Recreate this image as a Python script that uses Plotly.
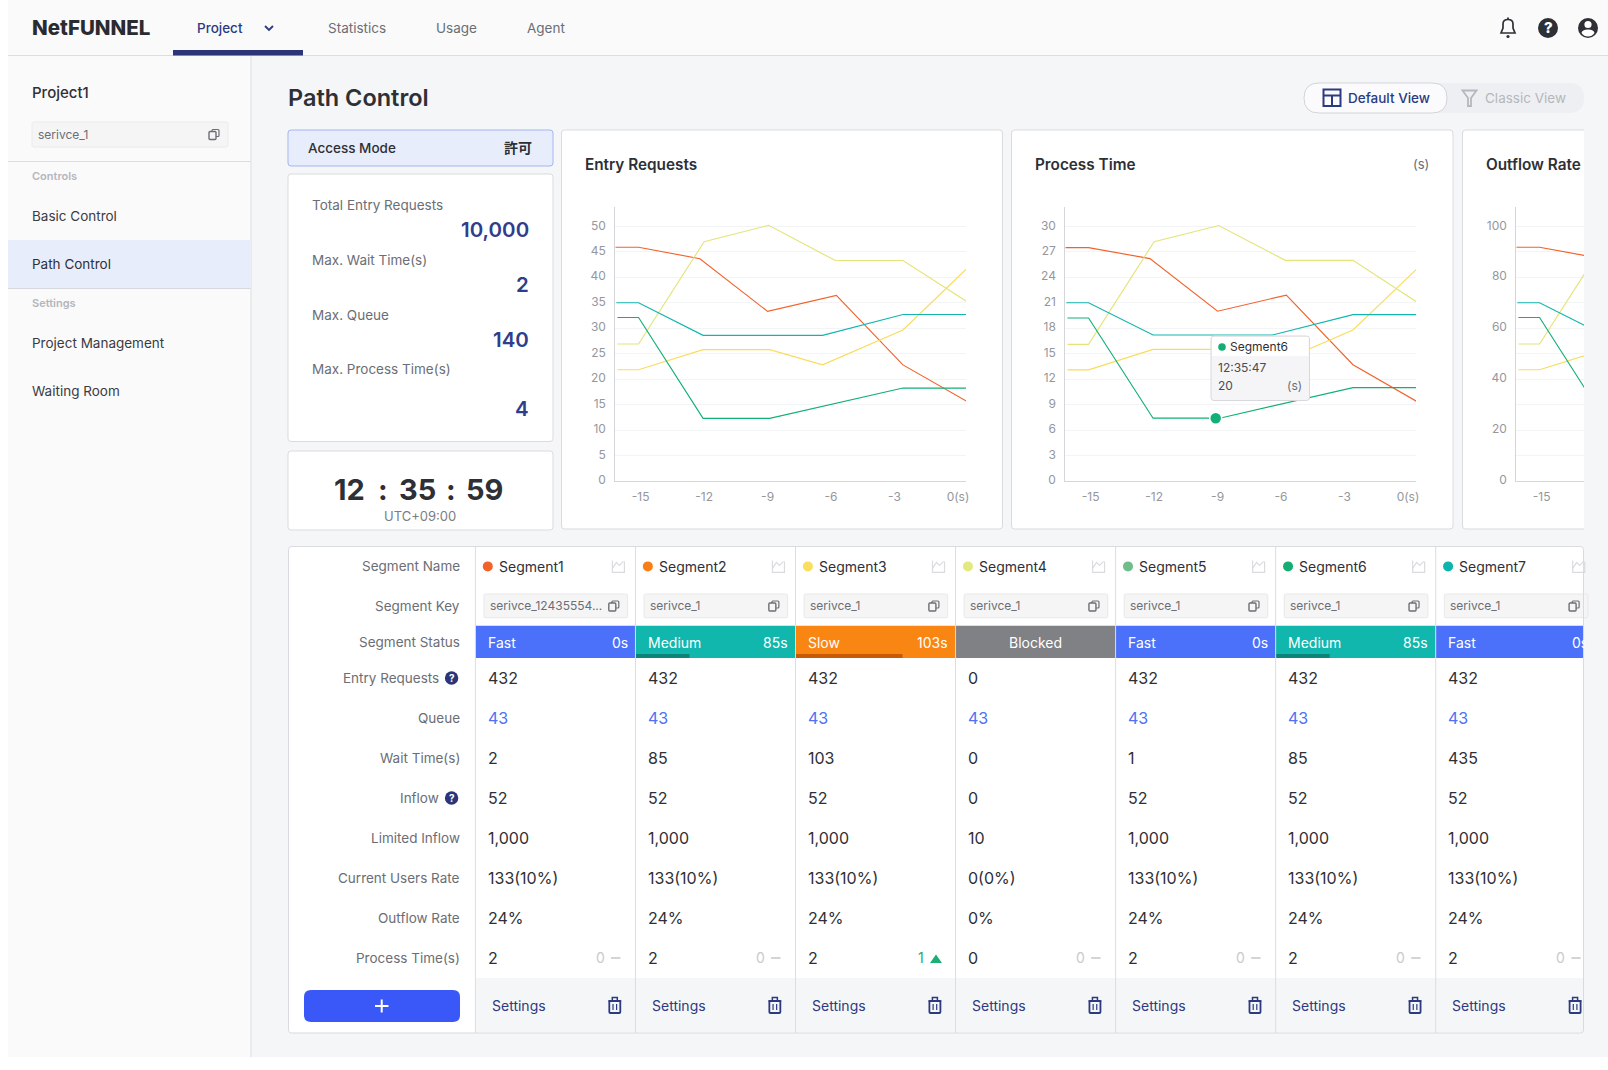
#!/usr/bin/env python3
"""NetFUNNEL path control dashboard, drawn as one Plotly figure."""

import plotly.graph_objects as go

W, H = 1608, 1070

# chart data, x is seconds before now
s1_x = [-16.2, -15.1, -12.2, -9.0, -5.75, -2.6, 0.43]
s3_x = [-16.1, -15.1, -12.05, -8.9, -6.4, -2.6, 0.43]
s4_x = [-16.1, -15.1, -12.0, -8.95, -5.8, -2.6, 0.47]
s6_x = [-16.1, -15.1, -12.05, -8.9, -2.6, 0.43]
s7_x = [-16.15, -15.1, -12.05, -6.4, -2.6, 0.43]

entry_s1 = [45.9, 45.9, 43.65, 33.3, 36.45, 22.8, 15.6]
entry_s3 = [21.85, 21.85, 25.8, 25.8, 22.8, 29.65, 41.75]
entry_s4 = [26.9, 26.9, 47.0, 50.2, 43.3, 43.3, 35.1]
entry_s6 = [32.1, 32.1, 12.3, 12.3, 18.25, 18.25]
entry_s7 = [35.0, 35.0, 28.6, 28.6, 32.7, 32.7]

process_s1 = [27.5, 27.5, 26.2, 20.0, 21.9, 13.7, 9.35]
process_s3 = [13.1, 13.1, 15.5, 15.5, 13.7, 17.8, 25.0]
process_s4 = [16.1, 16.1, 28.2, 30.1, 26.0, 26.0, 21.0]
process_s6 = [19.2, 19.2, 7.4, 7.4, 11.0, 11.0]
process_s7 = [21.0, 21.0, 17.2, 17.2, 19.6, 19.6]

outflow_s1 = [91.8, 91.8, 87.4, 66.6, 72.9, 45.6, 31.2]
outflow_s3 = [43.7, 43.7, 51.6, 51.6, 45.6, 59.3, 83.5]
outflow_s4 = [53.8, 53.8, 94.0, 100.4, 86.6, 86.6, 70.2]
outflow_s6 = [64.2, 64.2, 24.6, 24.6, 36.5, 36.5]
outflow_s7 = [70.0, 70.0, 57.2, 57.2, 65.4, 65.4]

x_ticks = [-15, -12, -9, -6, -3, 0]
x_labels = ['-15', '-12', '-9', '-6', '-3', '0(s)']
entry_ticks = [0, 5, 10, 15, 20, 25, 30, 35, 40, 45, 50]
process_ticks = [0, 3, 6, 9, 12, 15, 18, 21, 24, 27, 30]
outflow_ticks = [0, 10, 20, 30, 40, 50, 60, 70, 80, 90, 100]
outflow_labels = ['0', '', '20', '', '40', '', '60', '', '80', '', '100']

# table data
row_names = ['Entry Requests', 'Queue', 'Wait Time(s)', 'Inflow', 'Limited Inflow',
             'Current Users Rate', 'Outflow Rate', 'Process Time(s)']
segment_names = ['Segment1', 'Segment2', 'Segment3', 'Segment4', 'Segment5', 'Segment6', 'Segment7']
segment_colors = ['#F2622B', '#F97F14', '#FADF5E', '#E2E97E', '#6FBE8A', '#14AE72', '#0DB5AC']
segment_keys = ['serivce_12435554...', 'serivce_1', 'serivce_1', 'serivce_1', 'serivce_1', 'serivce_1', 'serivce_1']
status_names = ['Fast', 'Medium', 'Slow', 'Blocked', 'Fast', 'Medium', 'Fast']
status_times = ['0s', '85s', '103s', '', '0s', '85s', '0s']
entry_requests = ['432', '432', '432', '0', '432', '432', '432']
queue = ['43', '43', '43', '43', '43', '43', '43']
wait_time = ['2', '85', '103', '0', '1', '85', '435']
inflow = ['52', '52', '52', '0', '52', '52', '52']
limited_inflow = ['1,000', '1,000', '1,000', '10', '1,000', '1,000', '1,000']
current_users = ['133(10%)', '133(10%)', '133(10%)', '0(0%)', '133(10%)', '133(10%)', '133(10%)']
outflow_rate = ['24%', '24%', '24%', '0%', '24%', '24%', '24%']
process_time = ['2', '2', '2', '0', '2', '2', '2']
process_delta = ['0', '0', '1', '0', '0', '0', '0']

stat_names = ['Total Entry Requests', 'Max. Wait Time(s)', 'Max. Queue', 'Max. Process Time(s)']
stat_values = ['10,000', '2', '140', '4']

NAVY = '#2C3A80'
INK = '#2E3036'
GRAY = '#6B6E75'
BORDER = '#DADBE0'
PAGE = '#F5F6F8'
SIDE = '#FAFAFB'
FONT = 'Inter, "Noto Sans CJK KR", sans-serif'
STATUS_COLORS = {'Fast': '#4B71FB', 'Medium': '#11B6AD', 'Slow': '#F98512', 'Blocked': '#808185'}
STATUS_BARS = {'Medium': ('#0B8378', 54), 'Slow': ('#C95A05', 107)}

shapes = []
notes = []


def px(x):
    return x / W


def py(y):
    return 1 - y / H


def rect(x0, y0, x1, y1, fill, line=None, width=1, layer='below'):
    shapes.append(dict(type='rect', xref='paper', yref='paper', x0=px(x0), x1=px(x1), y0=py(y0), y1=py(y1),
                       fillcolor=fill, line=dict(color=line or 'rgba(0,0,0,0)', width=width if line else 0),
                       layer=layer))


def path(points, line=None, width=1, fill=None, close=False, layer='below'):
    """Polyline through pixel points, a (x, y, 'Q', cx, cy) point is a curve."""
    parts = []
    for i, p in enumerate(points):
        if len(p) == 2:
            parts.append(f"{'M' if i == 0 else 'L'}{px(p[0]):.5f},{py(p[1]):.5f}")
        else:
            parts.append(f"Q{px(p[3]):.5f},{py(p[4]):.5f} {px(p[0]):.5f},{py(p[1]):.5f}")
    d = ' '.join(parts) + (' Z' if close else '')
    shapes.append(dict(type='path', xref='paper', yref='paper', path=d, layer=layer,
                       fillcolor=fill or 'rgba(0,0,0,0)',
                       line=dict(color=line or 'rgba(0,0,0,0)', width=width if line else 0)))


def rrect(x0, y0, x1, y1, r, fill=None, line=None, width=1, layer='below'):
    path([(x0 + r, y0), (x1 - r, y0), (x1, y0 + r, 'Q', x1, y0), (x1, y1 - r), (x1 - r, y1, 'Q', x1, y1),
          (x0 + r, y1), (x0, y1 - r, 'Q', x0, y1), (x0, y0 + r), (x0 + r, y0, 'Q', x0, y0)],
         line=line, width=width, fill=fill, close=True, layer=layer)


def circle(cx, cy, r, fill, layer='below'):
    shapes.append(dict(type='circle', xref='paper', yref='paper', x0=px(cx - r), x1=px(cx + r),
                       y0=py(cy + r), y1=py(cy - r), fillcolor=fill, line=dict(width=0), layer=layer))


def text(x, y, s, size=13.5, color=INK, anchor='left', weight=400):
    # annotation boxes sit about a pixel off the spot they are given
    nudge = {'left': -1, 'right': 1, 'center': 0}[anchor]
    notes.append(dict(xref='paper', yref='paper', x=px(x + nudge), y=py(y - 0.2), text=s, showarrow=False,
                      xanchor=anchor, yanchor='middle', borderpad=0,
                      font=dict(size=size, color=color, family=FONT, weight=weight)))


def copy_icon(cx, cy, fill='#F5F5F6'):
    rrect(cx - 2, cy - 5, cx + 5, cy + 2, 1, line=GRAY, width=1.2)
    rrect(cx - 5, cy - 3, cx + 2, cy + 5, 1, fill=fill, line=GRAY, width=1.4)


def chart_icon(cx, cy):
    c = '#DADBDF'
    path([(cx - 6, cy - 6), (cx - 6, cy + 6), (cx + 6, cy + 6), (cx + 6, cy - 5)], line=c, width=1.2)
    path([(cx - 6, cy + 2), (cx - 2, cy - 4), (cx + 1, cy - 1), (cx + 5, cy - 5)], line=c, width=1.2)


def trash_icon(cx, cy):
    rrect(cx - 5.5, cy - 4, cx + 5.5, cy + 8, 1, line=NAVY, width=1.8)
    path([(cx - 6.5, cy - 4), (cx + 6.5, cy - 4)], line=NAVY, width=1.8)
    path([(cx - 2.5, cy - 4), (cx - 2.5, cy - 7.5), (cx + 2.5, cy - 7.5), (cx + 2.5, cy - 4)], line=NAVY, width=1.5)
    path([(cx - 1.8, cy - 1), (cx - 1.8, cy + 5)], line=NAVY, width=1.2)
    path([(cx + 1.8, cy - 1), (cx + 1.8, cy + 5)], line=NAVY, width=1.2)


def help_icon(cx, cy):
    circle(cx, cy, 6.7, '#2B3578')
    text(cx, cy, '?', 10, 'white', 'center', 700)


def draw_frame():
    """Page background, top bar and side menu."""
    rect(8, 0, W, 1057, PAGE)
    rect(8, 0, W, 55, SIDE)
    rect(8, 55, 251, 1057, SIDE)
    rect(8, 55, W, 56, '#DCDDE1')
    rect(250.5, 56, 251.5, 1057, '#DCDDE1')
    rect(173, 50, 303, 55.5, '#2B3578')

    text(32, 28, 'NetFUNNEL', 20.5, '#2A2B30', weight=800)
    text(197, 28, 'Project', 13.5, NAVY, weight=500)
    path([(265, 26), (269, 30), (273, 26)], line=NAVY, width=1.8)
    text(327.5, 28, 'Statistics', 13.5, GRAY)
    text(436.5, 28, 'Usage', 13.5, GRAY)
    text(526.5, 28, 'Agent', 13.5, GRAY)

    # bell, help and account icons
    path([(1501, 33), (1503, 28), (1503, 24), (1508, 19.5, 'Q', 1503, 19.5), (1513, 24, 'Q', 1513, 19.5),
          (1513, 28), (1515, 33)], line=INK, width=1.7, close=True)
    path([(1508, 17.5), (1508, 19.5)], line=INK, width=1.8)
    circle(1508, 36.5, 1.6, INK)
    circle(1548, 28, 10, INK)
    text(1548, 28, '?', 15, 'white', 'center', 800)
    circle(1588, 28, 10, INK)
    circle(1588, 24.5, 3.6, 'white')
    path([(1581.5, 33), (1588, 29.5, 'Q', 1582, 29.5), (1594.5, 33, 'Q', 1594, 29.5), (1588, 36.5, 'Q', 1592, 36.5),
          (1581.5, 33, 'Q', 1584, 36.5)], fill='white')

    text(32, 93, 'Project1', 15, INK, weight=500)
    rrect(32, 122, 228, 147, 2, fill='#F5F5F6', line='#EBEBED')
    text(38, 134.5, 'serivce_1', 12, GRAY)
    copy_icon(214, 134.5)
    rect(8, 161, 250.5, 162, '#DCDDE1')
    text(32, 176, 'Controls', 11, '#B4B6BB', weight=600)
    text(32, 216, 'Basic Control', 13.5, '#3A3C42')
    rect(8, 240, 250.5, 288, '#E8EDFC')
    rect(8, 288, 250.5, 289, '#D6D8DE')
    text(32, 264, 'Path Control', 13.5, '#2E3036')
    text(32, 303, 'Settings', 11, '#B4B6BB', weight=600)
    text(32, 343, 'Project Management', 13.5, '#3A3C42')
    text(32, 391, 'Waiting Room', 13.5, '#3A3C42')

    text(288, 98, 'Path Control', 23.5, INK, weight=600)

    # view switch
    rrect(1400, 83, 1584, 113, 15, fill='#EEEFF2')
    rrect(1304, 83, 1447, 113, 15, fill='#FBFBFD', line='#D3D4DA')
    rect(1323.5, 89.5, 1340.5, 106, 'rgba(0,0,0,0)', NAVY, 2)
    path([(1323.5, 95.5), (1340.5, 95.5)], line=NAVY, width=2)
    path([(1332, 95.5), (1332, 106)], line=NAVY, width=2)
    text(1348, 98, 'Default View', 13.5, NAVY, weight=500)
    path([(1462.5, 90.5), (1476.5, 90.5), (1471, 98), (1471, 106), (1468, 106), (1468, 98)],
         line='#B5B7BC', width=1.8, close=True)
    text(1485, 98, 'Classic View', 13.5, '#B5B7BC')


def draw_summary():
    """Left column with access mode, totals and clock."""
    rrect(288, 130, 553, 166, 3, fill='#E8EDFC', line='#A4B6F2')
    text(308, 148, 'Access Mode', 13.5, INK, weight=500)
    text(532, 148, '許可', 14, INK, 'right', 600)

    rrect(288, 174, 553, 441.5, 3, fill='white', line=BORDER)
    label_y = [205.5, 260, 315, 369.5]
    value_y = [230, 285, 340, 408.5]
    for name, value, ly, vy in zip(stat_names, stat_values, label_y, value_y):
        text(312, ly, name, 13.5, GRAY)
        text(529, vy, value, 20.5, '#2F3E8C', 'right', 600)

    rrect(288, 451, 553, 530, 3, fill='white', line=BORDER)
    for x, s in [(349, '12'), (383, ':'), (417.5, '35'), (451, ':'), (485, '59')]:
        text(x, 489.5, s, 29, INK, 'center', 700)
    text(420, 516, 'UTC+09:00', 13, '#7A7D84', 'center')


def draw_chart_cards():
    for x0, x1 in [(561.5, 1002.5), (1011.5, 1453), (1462.5, 1600)]:
        rrect(x0, 130, x1, 529, 3, fill='white', line=BORDER)
    rect(1584, 125, W, 535, PAGE)
    text(585, 164.5, 'Entry Requests', 15.3, INK, weight=600)
    text(1035, 164.5, 'Process Time', 15.3, INK, weight=600)
    text(1428.5, 164.5, '(s)', 13, GRAY, 'right')
    text(1486, 164.5, 'Outflow Rate', 15.3, INK, weight=600)


def draw_tooltip():
    rrect(1211, 336, 1309.5, 400.5, 3, fill='#F5F5F7', line='#D8D8DC', layer='above')
    rect(1212, 337, 1308.5, 356, 'white', layer='above')
    circle(1222, 347, 3.8, '#14AE72', layer='above')
    text(1230, 347, 'Segment6', 12, INK)
    text(1218, 367.5, '12:35:47', 12, '#4A4C52')
    text(1218, 386, '20', 12, '#4A4C52')
    text(1302, 386, '(s)', 12, GRAY, 'right')


def draw_table():
    left, top, right, bottom = 288.5, 546.5, 1583.5, 1033
    col_x = [475.4 + 160.05 * i for i in range(7)]
    row_y = [678, 718.2, 758.2, 798, 838, 878.2, 918, 958]

    rrect(left, top, right, bottom, 3, fill='white')
    rect(col_x[0], 978, right, bottom - 1, PAGE)

    text(460, 566.4, 'Segment Name', 13.5, GRAY, 'right')
    text(460, 606, 'Segment Key', 13.5, GRAY, 'right')
    text(460, 642.4, 'Segment Status', 13.5, GRAY, 'right')
    for name, y in zip(row_names, row_y):
        has_help = name in ('Entry Requests', 'Inflow')
        text(439 if has_help else 460, y, name, 13.5, GRAY, 'right')
        if has_help:
            help_icon(451.6, y)

    rrect(304, 990, 460, 1022, 7, fill='#3A57F7')
    path([(375, 1006), (388.5, 1006)], line='white', width=2)
    path([(381.7, 999.5), (381.7, 1012.5)], line='white', width=2)

    rows = [entry_requests, queue, wait_time, inflow, limited_inflow, current_users, outflow_rate, process_time]
    for i, x in enumerate(col_x):
        x1 = min(x + 160.05, right)
        status = status_names[i]
        circle(x + 12.4, 566.4, 5, segment_colors[i])
        text(x + 23.6, 566.4, segment_names[i], 14, INK)
        chart_icon(x + 143, 566.4)

        rrect(x + 8.6, 594, x + 152.2, 617.7, 1.5, fill='#F5F5F6', line='#E8E8EA')
        text(x + 14.6, 606, segment_keys[i], 12, GRAY)
        copy_icon(x + 138.4, 606)

        rect(x, 625.8, x1, 658, STATUS_COLORS[status])
        if status in STATUS_BARS:
            color, size = STATUS_BARS[status]
            rect(x, 654, x + size, 658, color)
        if status == 'Blocked':
            text(x + 80, 642.4, status, 14, 'white', 'center')
        else:
            text(x + 12.6, 642.4, status, 14, 'white')
            text(x + 152.6, 642.4, status_times[i], 14, 'white', 'right')

        for values, y in zip(rows, row_y):
            color = '#4B71F5' if values is queue else INK
            text(x + 12.6, y, values[i], 16, color)

        # change marker next to the process time
        if process_delta[i] == '0':
            text(x + 129.5, 958, process_delta[i], 14, '#C8CACE', 'right')
            path([(x + 135.6, 958), (x + 145, 958)], line='#C8CACE', width=1.6)
        else:
            text(x + 128.5, 958, process_delta[i], 14, '#1BAE75', 'right')
            path([(x + 134.5, 963), (x + 146.5, 963), (x + 140.5, 954.5)], fill='#1BAE75', close=True)

        text(x + 16.6, 1005.5, 'Settings', 14, NAVY)
        trash_icon(x + 139.4, 1005)
        if i > 0:
            rect(x - 0.5, top, x + 0.5, bottom, '#DCDDE1')
    rect(col_x[0] - 0.5, top, col_x[0] + 0.5, bottom, '#DCDDE1')
    rrect(left, top, right, bottom, 3, line=BORDER)

    # the last column runs off the card
    notes.append(dict(xref='paper', yref='paper', x=px(1584), y=py(642), text=' ', showarrow=False,
                      xanchor='left', yanchor='middle', width=24, height=34, bgcolor=PAGE, borderpad=0))


draw_frame()
draw_summary()
draw_chart_cards()
draw_table()
draw_tooltip()

fig = go.Figure()

line_colors = ['#F2622B', '#F9DC5C', '#E4E47A', '#12B076', '#12B5AD']
x_series = [s1_x, s3_x, s4_x, s6_x, s7_x]
chart_series = [
    ('', [entry_s1, entry_s3, entry_s4, entry_s6, entry_s7]),
    ('2', [process_s1, process_s3, process_s4, process_s6, process_s7]),
    ('3', [outflow_s1, outflow_s3, outflow_s4, outflow_s6, outflow_s7]),
]
names = ['Segment1', 'Segment3', 'Segment4', 'Segment6', 'Segment7']

for suffix, series in chart_series:
    for name, xs, ys, color in zip(names, x_series, series, line_colors):
        fig.add_trace(go.Scatter(x=xs, y=ys, mode='lines', name=name, xaxis='x' + suffix, yaxis='y' + suffix,
                                 line=dict(color=color, width=1.15), cliponaxis=suffix == '3', showlegend=False))

fig.add_trace(go.Scatter(x=[-9.09], y=[7.4], mode='markers', xaxis='x2', yaxis='y2', showlegend=False,
                         marker=dict(color='#12B076', size=12, line=dict(color='white', width=1.5))))

tick_font = dict(size=12, color='#95979D', family=FONT)


def x_axis(x0, x1, anchor, vmax):
    return dict(domain=[px(x0), px(x1)], range=[-16.2, vmax], anchor=anchor, tickmode='array', tickvals=x_ticks,
                ticktext=x_labels, showgrid=False, zeroline=False, showline=True, linecolor='#D5D6DA', linewidth=1,
                ticks='', tickfont=tick_font, ticklabelstandoff=5, fixedrange=True, automargin=False)


def y_axis(vmax, ticks, labels, anchor):
    return dict(domain=[py(481), py(207)], range=[0, vmax], anchor=anchor, tickmode='array', tickvals=ticks,
                ticktext=labels, showgrid=True, gridcolor='#F3F4F6', gridwidth=1, zeroline=False, showline=True,
                linecolor='#D5D6DA', linewidth=1, ticks='', tickfont=tick_font, ticklabelstandoff=6,
                ticklabelshift=-1, fixedrange=True, automargin=False)


fig.update_layout(
    width=W,
    height=H,
    margin=dict(l=0, r=0, t=0, b=0),
    paper_bgcolor='white',
    plot_bgcolor='rgba(0,0,0,0)',
    showlegend=False,
    font=dict(family=FONT),
    shapes=shapes,
    annotations=notes,
    xaxis=x_axis(615.3, 966, 'y', 0.38),
    yaxis=y_axis(53.8, entry_ticks, [str(v) for v in entry_ticks], 'x'),
    xaxis2=x_axis(1065.3, 1416, 'y2', 0.38),
    yaxis2=y_axis(32.28, process_ticks, [str(v) for v in process_ticks], 'x2'),
    xaxis3=x_axis(1516.3, 1584, 'y3', -13.0),
    yaxis3=y_axis(107.6, outflow_ticks, outflow_labels, 'x3'),
)

# page margin would push the figure off the window, so the photo has to fit exactly
fig.write_html(
    "out.html",
    config={'displayModeBar': False},
    post_script="document.body.style.margin='0';document.documentElement.style.overflow='hidden';",
)
